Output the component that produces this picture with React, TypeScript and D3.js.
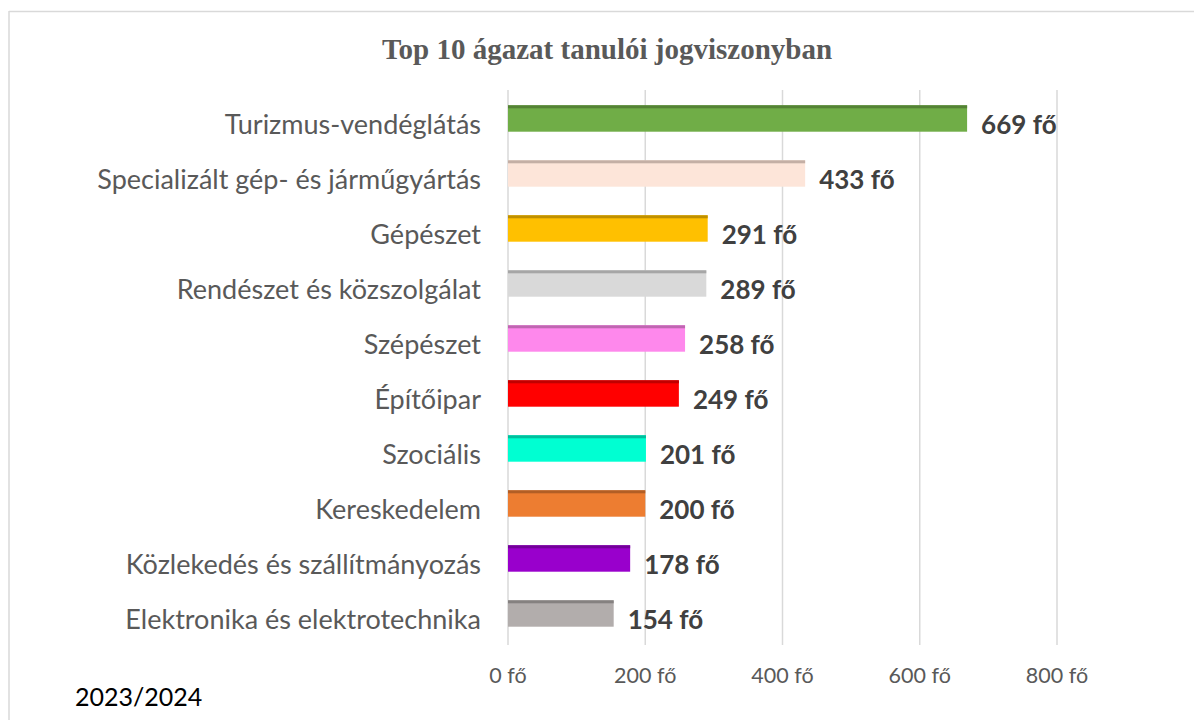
import React from "react";
import { scaleLinear, scaleBand } from "d3";

const categories = [
  "Turizmus-vendéglátás",
  "Specializált gép- és járműgyártás",
  "Gépészet",
  "Rendészet és közszolgálat",
  "Szépészet",
  "Építőipar",
  "Szociális",
  "Kereskedelem",
  "Közlekedés és szállítmányozás",
  "Elektronika és elektrotechnika",
];
const values = [669, 433, 291, 289, 258, 249, 201, 200, 178, 154];
const fills = ["#70ad47", "#fde5d9", "#ffc000", "#d9d9d9", "#fe88ec", "#ff0000", "#00ffd2", "#ed7d31", "#9900cc", "#b2adac"];
const edges = ["#548235", "#c4afa5", "#bf9000", "#a6a6a6", "#bf66b1", "#c00000", "#00bf9d", "#b25e25", "#730099", "#858180"];
const ticks = [0, 200, 400, 600, 800];

const W = 1194;
const H = 720;
const FONT = "Lato, 'Open Sans', sans-serif";

export default function App() {
  const x = scaleLinear().domain([0, 800]).range([508, 1057]);
  const y = scaleBand<number>()
    .domain(categories.map((_, i) => i))
    .range([91, 641])
    .paddingInner(0.52)
    .paddingOuter(0.26);
  const bw = y.bandwidth();

  return (
    <svg width={W} height={H} style={{ position: "absolute", left: 0, top: 0, background: "#fff" }}>
      {/* frame */}
      <line x1={9} y1={11.5} x2={W} y2={11.5} stroke="#d9d9d9" strokeWidth={1.5} />
      <line x1={9} y1={11} x2={9} y2={H} stroke="#d9d9d9" strokeWidth={1.5} />

      <text x={607} y={59} textAnchor="middle" fontFamily="'Liberation Serif', serif" fontWeight="bold" fontSize={29} fill="#595959">
        Top 10 ágazat tanulói jogviszonyban
      </text>

      {/* gridlines */}
      {ticks.map((t) => (
        <line key={t} x1={x(t)} x2={x(t)} y1={90} y2={645} stroke="#d9d9d9" strokeWidth={1.5} />
      ))}

      {/* bars */}
      {values.map((v, i) => {
        const top = y(i)!;
        return (
          <g key={i}>
            <rect x={x(0)} y={top} width={x(v) - x(0)} height={bw} fill={fills[i]} />
            <rect x={x(0)} y={top} width={x(v) - x(0)} height={3} fill={edges[i]} />
            <text x={x(v) + 14} y={top + bw / 2 + 15} fontFamily={FONT} fontWeight="bold" fontSize={26} fill="#404040">
              {v} fő
            </text>
          </g>
        );
      })}

      {/* category labels */}
      {categories.map((c, i) => (
        <text key={c} x={481} y={y(i)! + bw / 2 + 15} textAnchor="end" fontFamily={FONT} fontSize={27} fill="#595959">
          {c}
        </text>
      ))}

      {/* x tick labels */}
      {ticks.map((t) => (
        <text key={t} x={x(t)} y={683} textAnchor="middle" fontFamily={FONT} fontSize={21.5} fill="#595959">
          {t} fő
        </text>
      ))}

      <text x={75} y={706} fontFamily={FONT} fontSize={25} fill="#000">
        2023/2024
      </text>
    </svg>
  );
}
